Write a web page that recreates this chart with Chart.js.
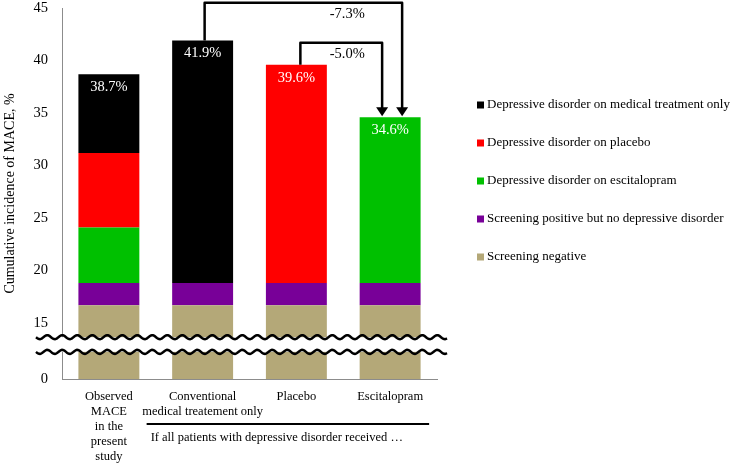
<!DOCTYPE html>
<html>
<head>
<meta charset="utf-8">
<script src="https://cdn.jsdelivr.net/npm/chart.js@4.4.0/dist/chart.umd.min.js"></script>
<style>
  html, body { margin: 0; padding: 0; background: #fff; }
  #wrap { width: 750px; height: 464px; }
</style>
</head>
<body>
<div id="wrap"><canvas id="maceChart"></canvas></div>
<script>
'use strict';

// Datos (MACE acumulado, %)
const categorias = [
  ['Observed', 'MACE', 'in the', 'present', 'study'],
  ['Conventional', 'medical treatement only'],
  ['Placebo'],
  ['Escitalopram']
];
const screeningNegative = [16.7, 16.7, 16.7, 16.7];
const screeningPositive = [2.1, 2.1, 2.1, 2.1];
const ddEscitalopram = [5.3, 0, 0, 15.8];
const ddPlacebo = [7.1, 0, 20.8, 0];
const ddMedical = [7.5, 23.1, 0, 0];
const yTicks = [15, 20, 25, 30, 35, 40, 45];
const yMin = 15 - 56 / 10.5; // zona cortada, se etiqueta como 0
const grupoTexto = 'If all patients with depressive disorder received \u2026';
const flechas = [
  { from: 1, to: 3, top: 45.5, dx0: 2, dx1: 12, labelY: 14 },
  { from: 2, to: 3, top: 41.7, dx0: 4, dx1: -8, labelY: 54 }
];

const serif = "'Liberation Serif', 'Times New Roman', serif";

const series = [
  { label: 'Screening negative', data: screeningNegative, color: '#b4a878' },
  { label: 'Screening positive but no depressive disorder', data: screeningPositive, color: '#780098' },
  { label: 'Depressive disorder on escitalopram', data: ddEscitalopram, color: '#00c000' },
  { label: 'Depressive disorder on placebo', data: ddPlacebo, color: '#ff0000' },
  { label: 'Depressive disorder on medical treatment only', data: ddMedical, color: '#000000' }
];

const totales = categorias.map((_, i) =>
  Math.round(series.reduce((s, d) => s + d.data[i], 0) * 10) / 10);

function onda(ctx, x0, x1, y) {
  ctx.beginPath();
  for (let x = x0; x <= x1; x++) {
    const yy = y + 2 * Math.sin((x - x0) / 15 * 2 * Math.PI);
    if (x === x0) ctx.moveTo(x, yy); else ctx.lineTo(x, yy);
  }
  ctx.stroke();
}

const extras = {
  id: 'extras',
  afterDraw(chart) {
    const { ctx, chartArea: a, scales: { x, y } } = chart;
    ctx.save();

    // etiquetas de totales
    ctx.fillStyle = '#fff';
    ctx.font = '14.5px ' + serif;
    ctx.textAlign = 'center';
    ctx.textBaseline = 'middle';
    totales.forEach((t, i) => {
      ctx.fillText(t.toFixed(1) + '%', x.getPixelForValue(i), y.getPixelForValue(t) + 13);
    });

    // corte del eje
    const yb1 = y.getPixelForValue(13.65);
    const yb2 = y.getPixelForValue(12.25);
    ctx.fillStyle = '#fff';
    ctx.fillRect(a.left - 26, yb1, a.right - a.left + 36, yb2 - yb1);
    ctx.strokeStyle = '#000';
    ctx.lineWidth = 2.5;
    onda(ctx, a.left - 26, a.right + 10, yb1);
    onda(ctx, a.left - 26, a.right + 10, yb2);

    // flechas
    ctx.lineWidth = 2.5;
    ctx.lineJoin = 'round';
    flechas.forEach(f => {
      const x0 = x.getPixelForValue(f.from) + f.dx0;
      const x1 = x.getPixelForValue(f.to) + f.dx1;
      const y0 = y.getPixelForValue(totales[f.from]);
      const yt = y.getPixelForValue(f.top);
      const y1 = y.getPixelForValue(totales[f.to]) - 1;
      ctx.beginPath();
      ctx.moveTo(x0, y0);
      ctx.lineTo(x0, yt);
      ctx.lineTo(x1, yt);
      ctx.lineTo(x1, y1 - 8);
      ctx.stroke();
      ctx.beginPath();
      ctx.moveTo(x1 - 6, y1 - 9);
      ctx.lineTo(x1 + 6, y1 - 9);
      ctx.lineTo(x1, y1);
      ctx.closePath();
      ctx.fillStyle = '#000';
      ctx.fill();
      const diff = (totales[f.to] - totales[f.from]).toFixed(1) + '%';
      ctx.font = '14.5px ' + serif;
      ctx.textAlign = 'center';
      ctx.fillText(diff, (x.getPixelForValue(2) + x.getPixelForValue(3)) / 2 + 4, f.labelY);
    });

    // agrupador del eje x
    const gx0 = x.getPixelForValue(1) - 56;
    const gx1 = x.getPixelForValue(3) + 39;
    ctx.beginPath();
    ctx.lineWidth = 2;
    ctx.moveTo(gx0, 424);
    ctx.lineTo(gx1, 424);
    ctx.stroke();
    ctx.font = '12.5px ' + serif;
    ctx.textAlign = 'left';
    ctx.fillStyle = '#000';
    ctx.fillText(grupoTexto, gx0 + 4, 438);

    // leyenda
    ctx.font = '13px ' + serif;
    series.slice().reverse().forEach((s, i) => {
      const ly = 105 + i * 38;
      ctx.fillStyle = s.color;
      ctx.fillRect(a.right + 40, ly - 3.5, 7, 7);
      ctx.fillStyle = '#000';
      ctx.fillText(s.label, a.right + 50, ly);
    });

    ctx.restore();
  }
};

new Chart(document.getElementById('maceChart'), {
  type: 'bar',
  data: {
    labels: categorias,
    datasets: series.map(s => ({
      label: s.label,
      data: s.data,
      backgroundColor: s.color,
      borderWidth: 0,
      barPercentage: 0.65,
      categoryPercentage: 1
    }))
  },
  options: {
    responsive: true,
    maintainAspectRatio: false,
    animation: false,
    layout: { padding: { top: 8, right: 313, left: 0, bottom: 0 } },
    plugins: { legend: { display: false }, tooltip: { enabled: false } },
    scales: {
      x: {
        stacked: true,
        grid: { display: false, drawTicks: false },
        border: { color: '#8c8c8c' },
        ticks: { font: { family: serif, size: 12.5 }, color: '#000', padding: 10, maxRotation: 0, autoSkip: false },
        afterFit: s => { s.height = 85; }
      },
      y: {
        stacked: true,
        min: yMin,
        max: 45,
        afterBuildTicks: s => { s.ticks = [yMin, ...yTicks].map(v => ({ value: v })); },
        grid: { display: false, drawTicks: false },
        border: { color: '#8c8c8c' },
        ticks: {
          font: { family: serif, size: 14.5 },
          color: '#000',
          padding: 14,
          callback: v => (v < 15 ? '0' : v)
        },
        title: {
          display: true,
          text: 'Cumulative incidence of MACE, %',
          font: { family: serif, size: 14 },
          color: '#000',
          padding: 2
        },
        afterFit: s => { s.width = 62; s.paddingTop = 0; s.paddingBottom = 0; }
      }
    }
  },
  plugins: [extras]
});
</script>
</body>
</html>
